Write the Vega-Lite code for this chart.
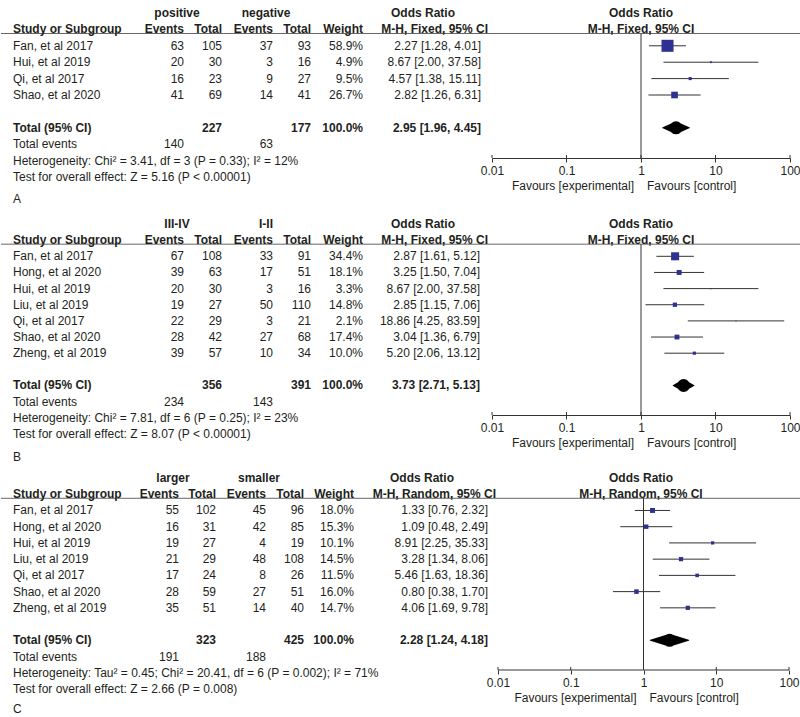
{
"$schema":"https://vega.github.io/schema/vega-lite/v6.json",
"padding":0,
"background":"white",
"spacing":0,
"bounds":"flush",
"align":"each",
"columns":8,
"config":{"view":{"stroke":null},"axis":{"grid":false},"text":{"font":"Liberation Sans","fontSize":12,"color":"#231f20","baseline":"middle"},"concat":{"spacing":0}},
"datasets":{
"A":[
{"r":0,"kind":"g","e1":"positive","e2":"negative","ci":"Odds Ratio"},
{"r":1,"kind":"h","study":"Study or Subgroup","e1":"Events","t1":"Total","e2":"Events","t2":"Total","w":"Weight","ci":"M-H, Fixed, 95% CI"},
{"r":2,"kind":"s","study":"Fan, et al 2017","e1":"63","t1":"105","e2":"37","t2":"93","w":"58.9%","ci":"2.27 [1.28, 4.01]","or":2.27,"lo":1.28,"hi":4.01,"wt":58.9},
{"r":3,"kind":"s","study":"Hui, et al 2019","e1":"20","t1":"30","e2":"3","t2":"16","w":"4.9%","ci":"8.67 [2.00, 37.58]","or":8.67,"lo":2.00,"hi":37.58,"wt":4.9},
{"r":4,"kind":"s","study":"Qi, et al 2017","e1":"16","t1":"23","e2":"9","t2":"27","w":"9.5%","ci":"4.57 [1.38, 15.11]","or":4.57,"lo":1.38,"hi":15.11,"wt":9.5},
{"r":5,"kind":"s","study":"Shao, et al 2020","e1":"41","t1":"69","e2":"14","t2":"41","w":"26.7%","ci":"2.82 [1.26, 6.31]","or":2.82,"lo":1.26,"hi":6.31,"wt":26.7},
{"r":7,"kind":"t","study":"Total (95% CI)","t1":"227","t2":"177","w":"100.0%","ci":"2.95 [1.96, 4.45]","or":2.95,"lo":1.96,"hi":4.45},
{"r":8,"kind":"n","study":"Total events","e1":"140","e2":"63"},
{"r":9,"kind":"n","study":"Heterogeneity: Chi² = 3.41, df = 3 (P = 0.33); I² = 12%"},
{"r":10,"kind":"n","study":"Test for overall effect: Z = 5.16 (P < 0.00001)"},
{"r":11,"kind":"l","study":"A"}
],
"B":[
{"r":0,"kind":"g","e1":"III-IV","e2":"I-II","ci":"Odds Ratio"},
{"r":1,"kind":"h","study":"Study or Subgroup","e1":"Events","t1":"Total","e2":"Events","t2":"Total","w":"Weight","ci":"M-H, Fixed, 95% CI"},
{"r":2,"kind":"s","study":"Fan, et al 2017","e1":"67","t1":"108","e2":"33","t2":"91","w":"34.4%","ci":"2.87 [1.61, 5.12]","or":2.87,"lo":1.61,"hi":5.12,"wt":34.4},
{"r":3,"kind":"s","study":"Hong, et al 2020","e1":"39","t1":"63","e2":"17","t2":"51","w":"18.1%","ci":"3.25 [1.50, 7.04]","or":3.25,"lo":1.50,"hi":7.04,"wt":18.1},
{"r":4,"kind":"s","study":"Hui, et al 2019","e1":"20","t1":"30","e2":"3","t2":"16","w":"3.3%","ci":"8.67 [2.00, 37.58]","or":8.67,"lo":2.00,"hi":37.58,"wt":3.3},
{"r":5,"kind":"s","study":"Liu, et al 2019","e1":"19","t1":"27","e2":"50","t2":"110","w":"14.8%","ci":"2.85 [1.15, 7.06]","or":2.85,"lo":1.15,"hi":7.06,"wt":14.8},
{"r":6,"kind":"s","study":"Qi, et al 2017","e1":"22","t1":"29","e2":"3","t2":"21","w":"2.1%","ci":"18.86 [4.25, 83.59]","or":18.86,"lo":4.25,"hi":83.59,"wt":2.1},
{"r":7,"kind":"s","study":"Shao, et al 2020","e1":"28","t1":"42","e2":"27","t2":"68","w":"17.4%","ci":"3.04 [1.36, 6.79]","or":3.04,"lo":1.36,"hi":6.79,"wt":17.4},
{"r":8,"kind":"s","study":"Zheng, et al 2019","e1":"39","t1":"57","e2":"10","t2":"34","w":"10.0%","ci":"5.20 [2.06, 13.12]","or":5.20,"lo":2.06,"hi":13.12,"wt":10.0},
{"r":10,"kind":"t","study":"Total (95% CI)","t1":"356","t2":"391","w":"100.0%","ci":"3.73 [2.71, 5.13]","or":3.73,"lo":2.71,"hi":5.13},
{"r":11,"kind":"n","study":"Total events","e1":"234","e2":"143"},
{"r":12,"kind":"n","study":"Heterogeneity: Chi² = 7.81, df = 6 (P = 0.25); I² = 23%"},
{"r":13,"kind":"n","study":"Test for overall effect: Z = 8.07 (P < 0.00001)"},
{"r":14,"kind":"l","study":"B"}
],
"C":[
{"r":0,"kind":"g","e1":"larger","e2":"smaller","ci":"Odds Ratio"},
{"r":1,"kind":"h","study":"Study or Subgroup","e1":"Events","t1":"Total","e2":"Events","t2":"Total","w":"Weight","ci":"M-H, Random, 95% CI"},
{"r":2,"kind":"s","study":"Fan, et al 2017","e1":"55","t1":"102","e2":"45","t2":"96","w":"18.0%","ci":"1.33 [0.76, 2.32]","or":1.33,"lo":0.76,"hi":2.32,"wt":18.0},
{"r":3,"kind":"s","study":"Hong, et al 2020","e1":"16","t1":"31","e2":"42","t2":"85","w":"15.3%","ci":"1.09 [0.48, 2.49]","or":1.09,"lo":0.48,"hi":2.49,"wt":15.3},
{"r":4,"kind":"s","study":"Hui, et al 2019","e1":"19","t1":"27","e2":"4","t2":"19","w":"10.1%","ci":"8.91 [2.25, 35.33]","or":8.91,"lo":2.25,"hi":35.33,"wt":10.1},
{"r":5,"kind":"s","study":"Liu, et al 2019","e1":"21","t1":"29","e2":"48","t2":"108","w":"14.5%","ci":"3.28 [1.34, 8.06]","or":3.28,"lo":1.34,"hi":8.06,"wt":14.5},
{"r":6,"kind":"s","study":"Qi, et al 2017","e1":"17","t1":"24","e2":"8","t2":"26","w":"11.5%","ci":"5.46 [1.63, 18.36]","or":5.46,"lo":1.63,"hi":18.36,"wt":11.5},
{"r":7,"kind":"s","study":"Shao, et al 2020","e1":"28","t1":"59","e2":"27","t2":"51","w":"16.0%","ci":"0.80 [0.38, 1.70]","or":0.80,"lo":0.38,"hi":1.70,"wt":16.0},
{"r":8,"kind":"s","study":"Zheng, et al 2019","e1":"35","t1":"51","e2":"14","t2":"40","w":"14.7%","ci":"4.06 [1.69, 9.78]","or":4.06,"lo":1.69,"hi":9.78,"wt":14.7},
{"r":10,"kind":"t","study":"Total (95% CI)","t1":"323","t2":"425","w":"100.0%","ci":"2.28 [1.24, 4.18]","or":2.28,"lo":1.24,"hi":4.18},
{"r":11,"kind":"n","study":"Total events","e1":"191","e2":"188"},
{"r":12,"kind":"n","study":"Heterogeneity: Tau² = 0.45; Chi² = 20.41, df = 6 (P = 0.002); I² = 71%"},
{"r":13,"kind":"n","study":"Test for overall effect: Z = 2.66 (P = 0.008)"},
{"r":14,"kind":"l","study":"C"}
],
"ticks":[{"tv":0.01},{"tv":0.1},{"tv":1},{"tv":10},{"tv":100}],
"fav":[{"side":"l","label":"Favours [experimental]"},{"side":"r","label":"Favours [control]"}]
},
"concat":[
{"width":183,"height":211,"layer":[
{"data":{"values":[{}]},"mark":{"type":"rule","color":"#666"},"encoding":{"x":{"value":0},"x2":{"value":"width"},"y":{"datum":1.25,"scale":{"domain":[-0.793,12.073],"reverse":true,"nice":false,"zero":false},"axis":null}}},
{"data":{"name":"A"},"transform":[{"filter":"datum.study"}],"mark":{"type":"text","align":"left","dx":12,"dy":{"expr":"datum.kind=='l'?6:0"},"fontWeight":{"expr":"(datum.kind=='h'||datum.kind=='t')?'bold':'normal'"}},"encoding":{"x":{"value":0},"y":{"field":"r","type":"quantitative","scale":{"domain":[-0.793,12.073],"reverse":true,"nice":false,"zero":false},"axis":null},"text":{"field":"study"}}},
{"data":{"name":"A"},"transform":[{"filter":"datum.e1"}],"mark":{"type":"text","align":{"expr":"datum.kind=='g'?'center':'right'"},"dx":{"expr":"datum.kind=='g'?-7:0"},"fontWeight":{"expr":"(datum.kind=='g'||datum.kind=='h'||datum.kind=='t')?'bold':'normal'"}},"encoding":{"x":{"value":"width"},"y":{"field":"r","type":"quantitative","scale":{"domain":[-0.793,12.073],"reverse":true,"nice":false,"zero":false},"axis":null},"text":{"field":"e1"}}}
]},
{"width":38,"height":211,"layer":[
{"data":{"values":[{}]},"mark":{"type":"rule","color":"#666"},"encoding":{"x":{"value":0},"x2":{"value":"width"},"y":{"datum":1.25,"scale":{"domain":[-0.793,12.073],"reverse":true,"nice":false,"zero":false},"axis":null}}},
{"data":{"name":"A"},"transform":[{"filter":"datum.t1"}],"mark":{"type":"text","align":"right","fontWeight":{"expr":"(datum.kind=='h'||datum.kind=='t')?'bold':'normal'"}},"encoding":{"x":{"value":"width"},"y":{"field":"r","type":"quantitative","scale":{"domain":[-0.793,12.073],"reverse":true,"nice":false,"zero":false},"axis":null},"text":{"field":"t1"}}}
]},
{"width":51,"height":211,"layer":[
{"data":{"values":[{}]},"mark":{"type":"rule","color":"#666"},"encoding":{"x":{"value":0},"x2":{"value":"width"},"y":{"datum":1.25,"scale":{"domain":[-0.793,12.073],"reverse":true,"nice":false,"zero":false},"axis":null}}},
{"data":{"name":"A"},"transform":[{"filter":"datum.e2"}],"mark":{"type":"text","align":{"expr":"datum.kind=='g'?'center':'right'"},"dx":{"expr":"datum.kind=='g'?-7:0"},"fontWeight":{"expr":"(datum.kind=='g'||datum.kind=='h'||datum.kind=='t')?'bold':'normal'"}},"encoding":{"x":{"value":"width"},"y":{"field":"r","type":"quantitative","scale":{"domain":[-0.793,12.073],"reverse":true,"nice":false,"zero":false},"axis":null},"text":{"field":"e2"}}}
]},
{"width":38,"height":211,"layer":[
{"data":{"values":[{}]},"mark":{"type":"rule","color":"#666"},"encoding":{"x":{"value":0},"x2":{"value":"width"},"y":{"datum":1.25,"scale":{"domain":[-0.793,12.073],"reverse":true,"nice":false,"zero":false},"axis":null}}},
{"data":{"name":"A"},"transform":[{"filter":"datum.t2"}],"mark":{"type":"text","align":"right","fontWeight":{"expr":"(datum.kind=='h'||datum.kind=='t')?'bold':'normal'"}},"encoding":{"x":{"value":"width"},"y":{"field":"r","type":"quantitative","scale":{"domain":[-0.793,12.073],"reverse":true,"nice":false,"zero":false},"axis":null},"text":{"field":"t2"}}}
]},
{"width":52,"height":211,"layer":[
{"data":{"values":[{}]},"mark":{"type":"rule","color":"#666"},"encoding":{"x":{"value":0},"x2":{"value":"width"},"y":{"datum":1.25,"scale":{"domain":[-0.793,12.073],"reverse":true,"nice":false,"zero":false},"axis":null}}},
{"data":{"name":"A"},"transform":[{"filter":"datum.w"}],"mark":{"type":"text","align":"right","fontWeight":{"expr":"(datum.kind=='h'||datum.kind=='t')?'bold':'normal'"}},"encoding":{"x":{"value":"width"},"y":{"field":"r","type":"quantitative","scale":{"domain":[-0.793,12.073],"reverse":true,"nice":false,"zero":false},"axis":null},"text":{"field":"w"}}}
]},
{"width":129,"height":211,"layer":[
{"data":{"values":[{}]},"mark":{"type":"rule","color":"#666"},"encoding":{"x":{"value":0},"x2":{"value":"width"},"y":{"datum":1.25,"scale":{"domain":[-0.793,12.073],"reverse":true,"nice":false,"zero":false},"axis":null}}},
{"data":{"name":"A"},"transform":[{"filter":"datum.ci"}],"mark":{"type":"text","align":{"expr":"datum.kind=='g'?'center':'right'"},"dx":{"expr":"datum.kind=='g'?-69:(datum.kind=='h'?-4:-11)"},"fontWeight":{"expr":"(datum.kind=='g'||datum.kind=='h'||datum.kind=='t')?'bold':'normal'"}},"encoding":{"x":{"value":"width"},"y":{"field":"r","type":"quantitative","scale":{"domain":[-0.793,12.073],"reverse":true,"nice":false,"zero":false},"axis":null},"text":{"field":"ci"}}}
]},
{"width":298,"height":158,"resolve":{"scale":{"size":"independent"}},"layer":[
{"data":{"values":[{}]},"mark":{"type":"rule","color":"#666"},"encoding":{"x":{"value":0},"x2":{"value":"width"},"y":{"datum":1.25,"scale":{"domain":[-0.793,8.841],"reverse":true,"nice":false,"zero":false},"axis":null}}},
{"data":{"name":"A"},"transform":[{"filter":"datum.kind=='g'||datum.kind=='h'"}],"mark":{"type":"text","fontWeight":"bold"},"encoding":{"y":{"field":"r","type":"quantitative","axis":null},"text":{"field":"ci"}}},
{"data":{"values":[{}]},"mark":{"type":"rule","color":"#333"},"encoding":{"x":{"datum":1,"scale":{"type":"log","domain":[0.01,100],"nice":false}},"y":{"datum":1.25,"axis":null},"y2":{"value":"height"}}},
{"data":{"name":"A"},"transform":[{"filter":"datum.kind=='s'"}],"mark":{"type":"rule","color":"#333"},"encoding":{"x":{"field":"lo","type":"quantitative","title":null,"axis":{"orient":"bottom","values":[0.01,0.1,1,10,100],"format":"~g","title":null,"grid":false,"domainColor":"#333","tickColor":"#333","tickSize":4,"labelPadding":3,"labelFont":"Liberation Sans","labelFontSize":12,"labelColor":"#231f20","labelFlush":false,"labelOverlap":false,"labelBound":false}},"x2":{"field":"hi"},"y":{"field":"r","type":"quantitative","axis":null}}},
{"data":{"name":"A"},"transform":[{"filter":"datum.kind=='s'"}],"mark":{"type":"square","filled":true,"color":"#2e3192","opacity":1},"encoding":{"x":{"field":"or","type":"quantitative","title":null},"y":{"field":"r","type":"quantitative","axis":null},"size":{"field":"wt","type":"quantitative","scale":{"type":"pow","exponent":1.5,"domain":[0,100],"range":[0,320]},"legend":null}}},
{"data":{"name":"A"},"transform":[{"filter":"datum.kind=='t'"},{"fold":["lo","or","hi"]}],"mark":{"type":"trail","color":"#000"},"encoding":{"x":{"field":"value","type":"quantitative","title":null},"y":{"field":"r","type":"quantitative","axis":null},"size":{"field":"key","type":"ordinal","scale":{"type":"ordinal","domain":["lo","or","hi"],"range":[0,13,0]},"legend":null}}},
{"data":{"name":"ticks"},"mark":{"type":"rule","color":"#333"},"encoding":{"x":{"field":"tv","type":"quantitative","title":null},"y":{"datum":8.841,"axis":null},"y2":{"datum":8.658}}},
{"data":{"name":"fav"},"mark":{"type":"text","dy":28,"align":{"expr":"datum.side=='l'?'right':'left'"},"dx":{"expr":"datum.side=='l'?-7:6"}},"encoding":{"x":{"datum":1},"y":{"value":"height"},"text":{"field":"label"}}}
]},
{"width":11,"height":211,"data":{"values":[{}]},"mark":{"type":"rule","color":"#666"},"encoding":{"x":{"value":0},"x2":{"value":"width"},"y":{"datum":1.25,"scale":{"domain":[-0.793,12.073],"reverse":true,"nice":false,"zero":false},"axis":null}}},

{"width":183,"height":254,"layer":[
{"data":{"values":[{}]},"mark":{"type":"rule","color":"#666"},"encoding":{"x":{"value":0},"x2":{"value":"width"},"y":{"datum":1.25,"scale":{"domain":[-0.805,14.923],"reverse":true,"nice":false,"zero":false},"axis":null}}},
{"data":{"name":"B"},"transform":[{"filter":"datum.study"}],"mark":{"type":"text","align":"left","dx":12,"dy":{"expr":"datum.kind=='l'?7:0"},"fontWeight":{"expr":"(datum.kind=='h'||datum.kind=='t')?'bold':'normal'"}},"encoding":{"x":{"value":0},"y":{"field":"r","type":"quantitative","scale":{"domain":[-0.805,14.923],"reverse":true,"nice":false,"zero":false},"axis":null},"text":{"field":"study"}}},
{"data":{"name":"B"},"transform":[{"filter":"datum.e1"}],"mark":{"type":"text","align":{"expr":"datum.kind=='g'?'center':'right'"},"dx":{"expr":"datum.kind=='g'?-7:0"},"fontWeight":{"expr":"(datum.kind=='g'||datum.kind=='h'||datum.kind=='t')?'bold':'normal'"}},"encoding":{"x":{"value":"width"},"y":{"field":"r","type":"quantitative","scale":{"domain":[-0.805,14.923],"reverse":true,"nice":false,"zero":false},"axis":null},"text":{"field":"e1"}}}
]},
{"width":38,"height":254,"layer":[
{"data":{"values":[{}]},"mark":{"type":"rule","color":"#666"},"encoding":{"x":{"value":0},"x2":{"value":"width"},"y":{"datum":1.25,"scale":{"domain":[-0.805,14.923],"reverse":true,"nice":false,"zero":false},"axis":null}}},
{"data":{"name":"B"},"transform":[{"filter":"datum.t1"}],"mark":{"type":"text","align":"right","fontWeight":{"expr":"(datum.kind=='h'||datum.kind=='t')?'bold':'normal'"}},"encoding":{"x":{"value":"width"},"y":{"field":"r","type":"quantitative","scale":{"domain":[-0.805,14.923],"reverse":true,"nice":false,"zero":false},"axis":null},"text":{"field":"t1"}}}
]},
{"width":51,"height":254,"layer":[
{"data":{"values":[{}]},"mark":{"type":"rule","color":"#666"},"encoding":{"x":{"value":0},"x2":{"value":"width"},"y":{"datum":1.25,"scale":{"domain":[-0.805,14.923],"reverse":true,"nice":false,"zero":false},"axis":null}}},
{"data":{"name":"B"},"transform":[{"filter":"datum.e2"}],"mark":{"type":"text","align":{"expr":"datum.kind=='g'?'center':'right'"},"dx":{"expr":"datum.kind=='g'?-7:0"},"fontWeight":{"expr":"(datum.kind=='g'||datum.kind=='h'||datum.kind=='t')?'bold':'normal'"}},"encoding":{"x":{"value":"width"},"y":{"field":"r","type":"quantitative","scale":{"domain":[-0.805,14.923],"reverse":true,"nice":false,"zero":false},"axis":null},"text":{"field":"e2"}}}
]},
{"width":38,"height":254,"layer":[
{"data":{"values":[{}]},"mark":{"type":"rule","color":"#666"},"encoding":{"x":{"value":0},"x2":{"value":"width"},"y":{"datum":1.25,"scale":{"domain":[-0.805,14.923],"reverse":true,"nice":false,"zero":false},"axis":null}}},
{"data":{"name":"B"},"transform":[{"filter":"datum.t2"}],"mark":{"type":"text","align":"right","fontWeight":{"expr":"(datum.kind=='h'||datum.kind=='t')?'bold':'normal'"}},"encoding":{"x":{"value":"width"},"y":{"field":"r","type":"quantitative","scale":{"domain":[-0.805,14.923],"reverse":true,"nice":false,"zero":false},"axis":null},"text":{"field":"t2"}}}
]},
{"width":52,"height":254,"layer":[
{"data":{"values":[{}]},"mark":{"type":"rule","color":"#666"},"encoding":{"x":{"value":0},"x2":{"value":"width"},"y":{"datum":1.25,"scale":{"domain":[-0.805,14.923],"reverse":true,"nice":false,"zero":false},"axis":null}}},
{"data":{"name":"B"},"transform":[{"filter":"datum.w"}],"mark":{"type":"text","align":"right","fontWeight":{"expr":"(datum.kind=='h'||datum.kind=='t')?'bold':'normal'"}},"encoding":{"x":{"value":"width"},"y":{"field":"r","type":"quantitative","scale":{"domain":[-0.805,14.923],"reverse":true,"nice":false,"zero":false},"axis":null},"text":{"field":"w"}}}
]},
{"width":129,"height":254,"layer":[
{"data":{"values":[{}]},"mark":{"type":"rule","color":"#666"},"encoding":{"x":{"value":0},"x2":{"value":"width"},"y":{"datum":1.25,"scale":{"domain":[-0.805,14.923],"reverse":true,"nice":false,"zero":false},"axis":null}}},
{"data":{"name":"B"},"transform":[{"filter":"datum.ci"}],"mark":{"type":"text","align":{"expr":"datum.kind=='g'?'center':'right'"},"dx":{"expr":"datum.kind=='g'?-69:(datum.kind=='h'?-4:-12)"},"fontWeight":{"expr":"(datum.kind=='g'||datum.kind=='h'||datum.kind=='t')?'bold':'normal'"}},"encoding":{"x":{"value":"width"},"y":{"field":"r","type":"quantitative","scale":{"domain":[-0.805,14.923],"reverse":true,"nice":false,"zero":false},"axis":null},"text":{"field":"ci"}}}
]},
{"width":298,"height":204,"resolve":{"scale":{"size":"independent"}},"layer":[
{"data":{"values":[{}]},"mark":{"type":"rule","color":"#666"},"encoding":{"x":{"value":0},"x2":{"value":"width"},"y":{"datum":1.25,"scale":{"domain":[-0.805,11.827],"reverse":true,"nice":false,"zero":false},"axis":null}}},
{"data":{"name":"B"},"transform":[{"filter":"datum.kind=='g'||datum.kind=='h'"}],"mark":{"type":"text","fontWeight":"bold"},"encoding":{"y":{"field":"r","type":"quantitative","axis":null},"text":{"field":"ci"}}},
{"data":{"values":[{}]},"mark":{"type":"rule","color":"#333"},"encoding":{"x":{"datum":1,"scale":{"type":"log","domain":[0.01,100],"nice":false}},"y":{"datum":1.25,"axis":null},"y2":{"value":"height"}}},
{"data":{"name":"B"},"transform":[{"filter":"datum.kind=='s'"}],"mark":{"type":"rule","color":"#333"},"encoding":{"x":{"field":"lo","type":"quantitative","title":null,"axis":{"orient":"bottom","values":[0.01,0.1,1,10,100],"format":"~g","title":null,"grid":false,"domainColor":"#333","tickColor":"#333","tickSize":4,"labelPadding":3,"labelFont":"Liberation Sans","labelFontSize":12,"labelColor":"#231f20","labelFlush":false,"labelOverlap":false,"labelBound":false}},"x2":{"field":"hi"},"y":{"field":"r","type":"quantitative","axis":null}}},
{"data":{"name":"B"},"transform":[{"filter":"datum.kind=='s'"}],"mark":{"type":"square","filled":true,"color":"#2e3192","opacity":1},"encoding":{"x":{"field":"or","type":"quantitative","title":null},"y":{"field":"r","type":"quantitative","axis":null},"size":{"field":"wt","type":"quantitative","scale":{"type":"pow","exponent":1.5,"domain":[0,100],"range":[0,320]},"legend":null}}},
{"data":{"name":"B"},"transform":[{"filter":"datum.kind=='t'"},{"fold":["lo","or","hi"]}],"mark":{"type":"trail","color":"#000"},"encoding":{"x":{"field":"value","type":"quantitative","title":null},"y":{"field":"r","type":"quantitative","axis":null},"size":{"field":"key","type":"ordinal","scale":{"type":"ordinal","domain":["lo","or","hi"],"range":[0,13,0]},"legend":null}}},
{"data":{"name":"ticks"},"mark":{"type":"rule","color":"#333"},"encoding":{"x":{"field":"tv","type":"quantitative","title":null},"y":{"datum":11.827,"axis":null},"y2":{"datum":11.641}}},
{"data":{"name":"fav"},"mark":{"type":"text","dy":28,"align":{"expr":"datum.side=='l'?'right':'left'"},"dx":{"expr":"datum.side=='l'?-7:6"}},"encoding":{"x":{"datum":1},"y":{"value":"height"},"text":{"field":"label"}}}
]},
{"width":11,"height":254,"data":{"values":[{}]},"mark":{"type":"rule","color":"#666"},"encoding":{"x":{"value":0},"x2":{"value":"width"},"y":{"datum":1.25,"scale":{"domain":[-0.805,14.923],"reverse":true,"nice":false,"zero":false},"axis":null}}},

{"width":183,"height":252,"layer":[
{"data":{"values":[{}]},"mark":{"type":"rule","color":"#666"},"encoding":{"x":{"value":0},"x2":{"value":"width"},"y":{"datum":1.25,"scale":{"domain":[-0.801,14.726],"reverse":true,"nice":false,"zero":false},"axis":null}}},
{"data":{"name":"C"},"transform":[{"filter":"datum.study"}],"mark":{"type":"text","align":"left","dx":12,"dy":{"expr":"datum.kind=='l'?4:0"},"fontWeight":{"expr":"(datum.kind=='h'||datum.kind=='t')?'bold':'normal'"}},"encoding":{"x":{"value":0},"y":{"field":"r","type":"quantitative","scale":{"domain":[-0.801,14.726],"reverse":true,"nice":false,"zero":false},"axis":null},"text":{"field":"study"}}},
{"data":{"name":"C"},"transform":[{"filter":"datum.e1"}],"mark":{"type":"text","align":{"expr":"datum.kind=='g'?'center':'right'"},"dx":{"expr":"datum.kind=='g'?-11:-5"},"fontWeight":{"expr":"(datum.kind=='g'||datum.kind=='h'||datum.kind=='t')?'bold':'normal'"}},"encoding":{"x":{"value":"width"},"y":{"field":"r","type":"quantitative","scale":{"domain":[-0.801,14.726],"reverse":true,"nice":false,"zero":false},"axis":null},"text":{"field":"e1"}}}
]},
{"width":38,"height":252,"layer":[
{"data":{"values":[{}]},"mark":{"type":"rule","color":"#666"},"encoding":{"x":{"value":0},"x2":{"value":"width"},"y":{"datum":1.25,"scale":{"domain":[-0.801,14.726],"reverse":true,"nice":false,"zero":false},"axis":null}}},
{"data":{"name":"C"},"transform":[{"filter":"datum.t1"}],"mark":{"type":"text","align":"right","dx":-6,"fontWeight":{"expr":"(datum.kind=='h'||datum.kind=='t')?'bold':'normal'"}},"encoding":{"x":{"value":"width"},"y":{"field":"r","type":"quantitative","scale":{"domain":[-0.801,14.726],"reverse":true,"nice":false,"zero":false},"axis":null},"text":{"field":"t1"}}}
]},
{"width":51,"height":252,"layer":[
{"data":{"values":[{}]},"mark":{"type":"rule","color":"#666"},"encoding":{"x":{"value":0},"x2":{"value":"width"},"y":{"datum":1.25,"scale":{"domain":[-0.801,14.726],"reverse":true,"nice":false,"zero":false},"axis":null}}},
{"data":{"name":"C"},"transform":[{"filter":"datum.e2"}],"mark":{"type":"text","align":{"expr":"datum.kind=='g'?'center':'right'"},"dx":{"expr":"datum.kind=='g'?-14:-7"},"fontWeight":{"expr":"(datum.kind=='g'||datum.kind=='h'||datum.kind=='t')?'bold':'normal'"}},"encoding":{"x":{"value":"width"},"y":{"field":"r","type":"quantitative","scale":{"domain":[-0.801,14.726],"reverse":true,"nice":false,"zero":false},"axis":null},"text":{"field":"e2"}}}
]},
{"width":38,"height":252,"layer":[
{"data":{"values":[{}]},"mark":{"type":"rule","color":"#666"},"encoding":{"x":{"value":0},"x2":{"value":"width"},"y":{"datum":1.25,"scale":{"domain":[-0.801,14.726],"reverse":true,"nice":false,"zero":false},"axis":null}}},
{"data":{"name":"C"},"transform":[{"filter":"datum.t2"}],"mark":{"type":"text","align":"right","dx":-7,"fontWeight":{"expr":"(datum.kind=='h'||datum.kind=='t')?'bold':'normal'"}},"encoding":{"x":{"value":"width"},"y":{"field":"r","type":"quantitative","scale":{"domain":[-0.801,14.726],"reverse":true,"nice":false,"zero":false},"axis":null},"text":{"field":"t2"}}}
]},
{"width":52,"height":252,"layer":[
{"data":{"values":[{}]},"mark":{"type":"rule","color":"#666"},"encoding":{"x":{"value":0},"x2":{"value":"width"},"y":{"datum":1.25,"scale":{"domain":[-0.801,14.726],"reverse":true,"nice":false,"zero":false},"axis":null}}},
{"data":{"name":"C"},"transform":[{"filter":"datum.w"}],"mark":{"type":"text","align":"right","dx":-9,"fontWeight":{"expr":"(datum.kind=='h'||datum.kind=='t')?'bold':'normal'"}},"encoding":{"x":{"value":"width"},"y":{"field":"r","type":"quantitative","scale":{"domain":[-0.801,14.726],"reverse":true,"nice":false,"zero":false},"axis":null},"text":{"field":"w"}}}
]},
{"width":129,"height":252,"layer":[
{"data":{"values":[{}]},"mark":{"type":"rule","color":"#666"},"encoding":{"x":{"value":0},"x2":{"value":"width"},"y":{"datum":1.25,"scale":{"domain":[-0.801,14.726],"reverse":true,"nice":false,"zero":false},"axis":null}}},
{"data":{"name":"C"},"transform":[{"filter":"datum.ci"}],"mark":{"type":"text","align":{"expr":"datum.kind=='g'?'center':'right'"},"dx":{"expr":"datum.kind=='g'?-70:(datum.kind=='h'?4:-4)"},"fontWeight":{"expr":"(datum.kind=='g'||datum.kind=='h'||datum.kind=='t')?'bold':'normal'"}},"encoding":{"x":{"value":"width"},"y":{"field":"r","type":"quantitative","scale":{"domain":[-0.801,14.726],"reverse":true,"nice":false,"zero":false},"axis":null},"text":{"field":"ci"}}}
]},
{"width":298,"height":205,"resolve":{"scale":{"size":"independent"}},"layer":[
{"data":{"values":[{}]},"mark":{"type":"rule","color":"#666"},"encoding":{"x":{"value":0},"x2":{"value":"width"},"y":{"datum":1.25,"scale":{"domain":[-0.801,11.830],"reverse":true,"nice":false,"zero":false},"axis":null}}},
{"data":{"name":"C"},"transform":[{"filter":"datum.kind=='g'||datum.kind=='h'"}],"mark":{"type":"text","fontWeight":"bold"},"encoding":{"y":{"field":"r","type":"quantitative","axis":null},"text":{"field":"ci"}}},
{"data":{"values":[{}]},"mark":{"type":"rule","color":"#333"},"encoding":{"x":{"datum":1,"scale":{"type":"log","domain":[0.00827,103.2],"nice":false}},"y":{"datum":1.25,"axis":null},"y2":{"value":"height"}}},
{"data":{"name":"C"},"transform":[{"filter":"datum.kind=='s'"}],"mark":{"type":"rule","color":"#333"},"encoding":{"x":{"field":"lo","type":"quantitative","title":null,"axis":{"orient":"bottom","values":[0.01,0.1,1,10,100],"format":"~g","title":null,"grid":false,"domain":false,"tickColor":"#333","tickSize":4,"labelPadding":3,"labelFont":"Liberation Sans","labelFontSize":12,"labelColor":"#231f20","labelFlush":false,"labelOverlap":false,"labelBound":false}},"x2":{"field":"hi"},"y":{"field":"r","type":"quantitative","axis":null}}},
{"data":{"name":"C"},"transform":[{"filter":"datum.kind=='s'"}],"mark":{"type":"square","filled":true,"color":"#2e3192","opacity":1},"encoding":{"x":{"field":"or","type":"quantitative","title":null},"y":{"field":"r","type":"quantitative","axis":null},"size":{"field":"wt","type":"quantitative","scale":{"type":"pow","exponent":1.5,"domain":[0,100],"range":[0,320]},"legend":null}}},
{"data":{"name":"C"},"transform":[{"filter":"datum.kind=='t'"},{"fold":["lo","or","hi"]}],"mark":{"type":"trail","color":"#000"},"encoding":{"x":{"field":"value","type":"quantitative","title":null},"y":{"field":"r","type":"quantitative","axis":null},"size":{"field":"key","type":"ordinal","scale":{"type":"ordinal","domain":["lo","or","hi"],"range":[0,13,0]},"legend":null}}},
{"data":{"name":"ticks"},"mark":{"type":"rule","color":"#333"},"encoding":{"x":{"field":"tv","type":"quantitative","title":null},"y":{"datum":11.830,"axis":null},"y2":{"datum":11.645}}},
{"data":{"name":"ticks"},"mark":{"type":"rule","color":"#333"},"transform":[{"aggregate":[{"op":"min","field":"tv","as":"tmin"},{"op":"max","field":"tv","as":"tmax"}]}],"encoding":{"x":{"field":"tmin","type":"quantitative","title":null},"x2":{"field":"tmax"},"y":{"datum":11.830,"axis":null}}},
{"data":{"name":"fav"},"mark":{"type":"text","dy":28,"align":{"expr":"datum.side=='l'?'right':'left'"},"dx":{"expr":"datum.side=='l'?-7:6"}},"encoding":{"x":{"datum":1},"y":{"value":"height"},"text":{"field":"label"}}}
]},
{"width":11,"height":252,"data":{"values":[{}]},"mark":{"type":"rule","color":"#666"},"encoding":{"x":{"value":0},"x2":{"value":"width"},"y":{"datum":1.25,"scale":{"domain":[-0.801,14.726],"reverse":true,"nice":false,"zero":false},"axis":null}}}
]
}
